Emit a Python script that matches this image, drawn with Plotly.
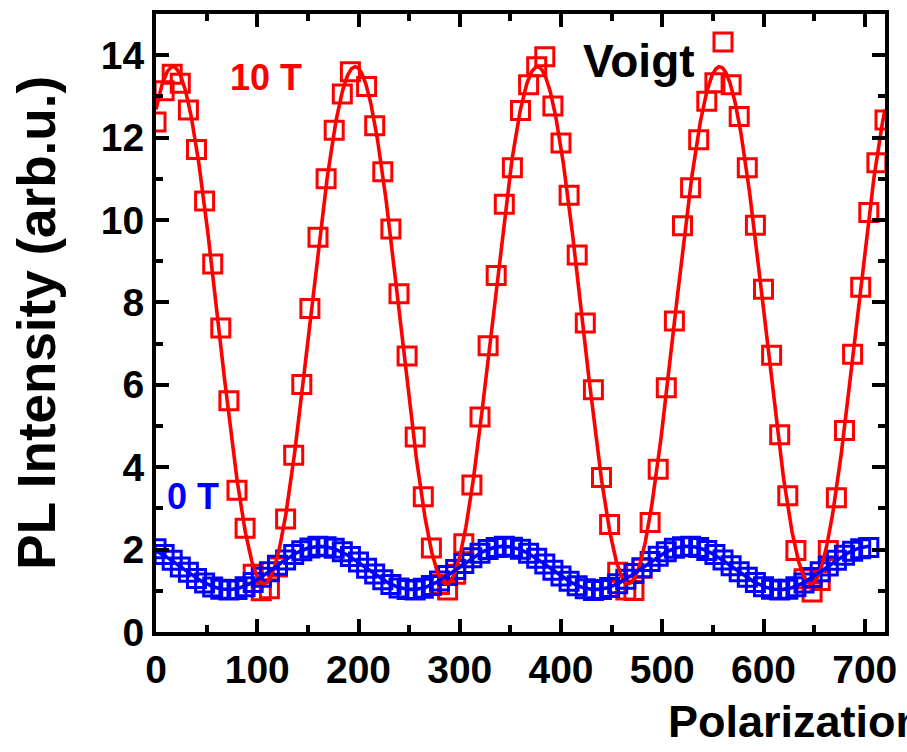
import numpy as np
import plotly.graph_objects as go

# Polarization-resolved PL intensity, Voigt geometry
red_angle = [0, 8, 16, 24, 32, 40, 48, 56, 64, 72, 80, 88, 96, 104, 112, 120, 128, 136,
             144, 152, 160, 168, 176, 184, 192, 208, 216, 224, 232, 240, 248, 256, 264,
             272, 280, 288, 296, 304, 312, 320, 328, 336, 344, 352, 360, 368, 376, 384,
             392, 400, 408, 416, 424, 432, 440, 448, 456, 464, 472, 480, 488, 496, 504,
             512, 520, 528, 536, 544, 552, 560, 568, 576, 584, 592, 600, 608, 616, 624,
             632, 640, 648, 656, 664, 672, 680, 688, 696, 704, 712, 720]
red_pl = [12.38, 13.14, 13.54, 13.32, 12.67, 11.71, 10.46, 8.93, 7.38, 5.61, 3.44, 2.52,
          1.40, 1.00, 1.05, 1.58, 2.74, 4.29, 6.01, 7.85, 9.58, 11.00, 12.18, 13.06, 13.60,
          13.24, 12.29, 11.17, 9.78, 8.21, 6.70, 4.73, 3.28, 2.04, 1.15, 1.02, 1.40, 2.14,
          3.57, 5.22, 6.95, 8.65, 10.38, 11.27, 12.66, 13.28, 13.72, 13.96, 12.77, 11.87,
          10.60, 9.15, 7.50, 5.88, 3.75, 2.61, 1.45, 1.02, 1.01, 1.55, 2.66, 3.95, 5.93,
          7.55, 9.86, 10.78, 11.95, 12.88, 13.33, 14.32, 13.28, 12.51, 11.27, 9.87, 8.32,
          6.72, 4.79, 3.31, 1.98, 1.29, 0.97, 1.25, 1.98, 3.26, 4.89, 6.74, 8.37, 10.18,
          11.39, 12.43]

blue_angle = [0, 8, 16, 24, 32, 40, 48, 56, 64, 72, 80, 88, 96, 104, 112, 120, 128, 136,
              144, 152, 160, 168, 176, 184, 192, 200, 208, 216, 224, 232, 240, 248, 256,
              264, 272, 280, 288, 296, 304, 312, 320, 328, 336, 344, 352, 360, 368, 376,
              384, 392, 400, 408, 416, 424, 432, 440, 448, 456, 464, 472, 480, 488, 496,
              504, 512, 520, 528, 536, 544, 552, 560, 568, 576, 584, 592, 600, 608, 616,
              624, 632, 640, 648, 656, 664, 672, 680, 688, 696, 704]
blue_pl = [2.02, 1.88, 1.74, 1.58, 1.45, 1.30, 1.19, 1.09, 1.04, 1.02, 1.03, 1.10, 1.20,
           1.33, 1.46, 1.62, 1.75, 1.88, 1.97, 2.04, 2.08, 2.07, 2.03, 1.95, 1.83, 1.70,
           1.55, 1.41, 1.27, 1.15, 1.07, 1.03, 1.02, 1.06, 1.13, 1.24, 1.37, 1.52, 1.66,
           1.80, 1.91, 2.00, 2.05, 2.08, 2.06, 2.01, 1.91, 1.79, 1.65, 1.50, 1.36, 1.23,
           1.12, 1.05, 1.01, 1.03, 1.08, 1.17, 1.28, 1.42, 1.56, 1.71, 1.84, 1.95, 2.03,
           2.07, 2.08, 2.05, 1.98, 1.88, 1.75, 1.61, 1.46, 1.33, 1.20, 1.10, 1.04, 1.02,
           1.04, 1.10, 1.19, 1.32, 1.46, 1.60, 1.74, 1.86, 1.96, 2.02, 2.05]

# cos^2 fit parameters: y0 + A * cos^2(pi * (theta - xc) / w)
red_fit = dict(y0=1.17, A=12.55, xc=16.7, w=180.0)
blue_fit = dict(y0=1.03, A=1.05, xc=162.0, w=181.5)

x_ticks = [0, 100, 200, 300, 400, 500, 600, 700]
y_ticks = [0, 2, 4, 6, 8, 10, 12, 14]

RED = "#ff0000"
BLUE = "#0000ff"
SANS = "Liberation Sans, Arial, sans-serif"


def cos2(p, theta):
    return p["y0"] + p["A"] * np.cos(np.pi * (theta - p["xc"]) / p["w"]) ** 2


th_red = np.linspace(0, 720, 1441)
th_blue = np.linspace(0, 704, 1409)

fig = go.Figure()
fig.add_trace(go.Scatter(
    x=red_angle, y=red_pl, mode="markers", name="10 T",
    marker=dict(symbol="square-open", size=18, color=RED, line=dict(width=3, color=RED)),
))
fig.add_trace(go.Scatter(
    x=blue_angle, y=blue_pl, mode="markers", name="0 T",
    marker=dict(symbol="square-open", size=18, color=BLUE, line=dict(width=3, color=BLUE)),
))
fig.add_trace(go.Scatter(
    x=th_red, y=cos2(red_fit, th_red), mode="lines", name="10 T fit",
    line=dict(color=RED, width=3.6),
))
fig.add_trace(go.Scatter(
    x=th_blue, y=cos2(blue_fit, th_blue), mode="lines", name="0 T fit",
    line=dict(color=BLUE, width=3.6),
))

axis_common = dict(
    showline=True, linecolor="black", linewidth=4, mirror="allticks",
    ticks="inside", ticklen=13, tickwidth=3.5, tickcolor="black",
    showgrid=False, zeroline=False, ticklabeloverflow="allow",
    tickfont=dict(family=SANS, size=39, color="black", weight="bold"),
)

fig.update_xaxes(range=[0, 720], tickvals=x_ticks,
                 minor=dict(dtick=50, ticks="inside", ticklen=7, tickwidth=3.5,
                            tickcolor="black", showgrid=False),
                 **axis_common)
fig.update_yaxes(range=[0, 15], tickvals=y_ticks,
                 minor=dict(dtick=1, ticks="inside", ticklen=7, tickwidth=3.5,
                            tickcolor="black", showgrid=False),
                 **axis_common)

fig.add_annotation(text="10 T", x=109, y=13.45, xref="x", yref="y", showarrow=False,
                   font=dict(family=SANS, size=36, color=RED, weight="bold"))
fig.add_annotation(text="0 T", x=37, y=3.3, xref="x", yref="y", showarrow=False,
                   font=dict(family=SANS, size=36, color=BLUE, weight="bold"))
fig.add_annotation(text="Voigt", x=477, y=13.85, xref="x", yref="y", showarrow=False,
                   font=dict(family=SANS, size=46, color="black", weight="bold"))

fig.add_annotation(text="Polarization angle (degree)", x=0.70, y=-0.145,
                   xref="paper", yref="paper", xanchor="left", yanchor="middle",
                   showarrow=False,
                   font=dict(family=SANS, size=45, color="black", weight="bold"))
fig.add_annotation(text="PL Intensity (arb.u.)", x=-0.165, y=0.5, textangle=-90,
                   xref="paper", yref="paper", xanchor="center", yanchor="middle",
                   showarrow=False,
                   font=dict(family=SANS, size=53, color="black", weight="bold"))

fig.update_layout(
    width=907, height=752,
    margin=dict(l=156, r=19, t=10, b=120),
    paper_bgcolor="white", plot_bgcolor="white",
    showlegend=False,
)

fig.write_html("out.html")
